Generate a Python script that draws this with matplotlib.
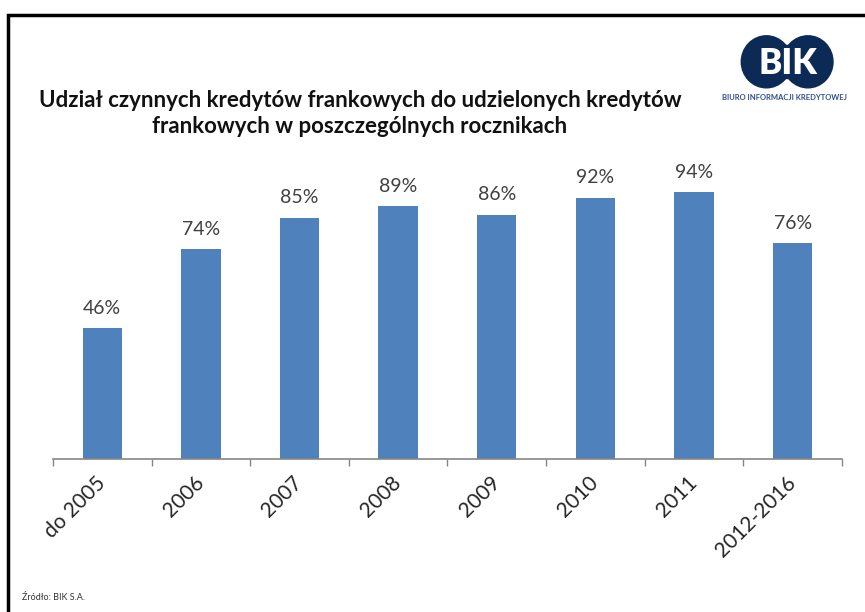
import matplotlib.pyplot as plt
from matplotlib.patches import Ellipse, Rectangle

# data
categories = ['do 2005', '2006', '2007', '2008', '2009', '2010', '2011', '2012-2016']
shares = [46, 74, 85, 89, 86, 92, 94, 76]

plt.rcParams['font.family'] = ['Lato', 'DejaVu Sans']

fig = plt.figure(figsize=(8.65, 6.12), dpi=100)
ax = fig.add_axes([0.0613, 0.25, 0.912, 0.464])

x = range(len(categories))
ax.bar(x, shares, width=0.4, color='#4F81BD', zorder=2)
for i, v in zip(x, shares):
    ax.text(i, v + 4, '{}%'.format(v), ha='center', va='bottom',
            fontsize=14, color='#404040')

ax.set_xlim(-0.5, len(categories) - 0.5)
ax.set_ylim(0, 100)
ax.set_yticks([])
for s in ['top', 'right', 'left']:
    ax.spines[s].set_visible(False)
ax.spines['bottom'].set_color('#868686')
ax.spines['bottom'].set_linewidth(1.2)

# ticks sit between categories
ax.set_xticks([i - 0.5 for i in range(len(categories) + 1)], minor=False)
ax.set_xticklabels([])
ax.tick_params(axis='x', which='major', length=5, color='#868686', width=1)
ax.set_xticks(list(x), minor=True)
ax.set_xticklabels(categories, minor=True, rotation=45, ha='right', va='center',
                   rotation_mode='anchor', fontsize=15, color='#262626')
ax.tick_params(axis='x', which='minor', length=0, pad=15)

# title
fig.text(0.416, 0.836, 'Udział czynnych kredytów frankowych do udzielonych kredytów',
         ha='center', va='center', fontsize=16, fontweight='bold', color='#111111')
fig.text(0.416, 0.793, 'frankowych w poszczególnych rocznikach',
         ha='center', va='center', fontsize=16, fontweight='bold', color='#111111')

# BIK logo
logo_c = '#0B2A55'
fig.patches.append(Ellipse((0.886, 0.899), 0.058, 0.085, transform=fig.transFigure,
                           color=logo_c, zorder=3))
fig.patches.append(Ellipse((0.934, 0.899), 0.058, 0.085, transform=fig.transFigure,
                           color=logo_c, zorder=3))
fig.patches.append(Rectangle((0.886, 0.872), 0.048, 0.054, transform=fig.transFigure,
                             color=logo_c, zorder=3))
fig.text(0.911, 0.897, 'BIK', ha='center', va='center', fontsize=25,
         fontweight='heavy', color='white', zorder=4)
fig.text(0.907, 0.841, 'BIURO INFORMACJI KREDYTOWEJ', ha='center', va='center',
         fontsize=5.5, fontweight='bold', color='#2C4F8A')

# source
fig.text(0.025, 0.024, 'Źródło: BIK S.A.', ha='left', va='center',
         fontsize=6.5, color='#333333')

# frame
fig.patches.append(Rectangle((0.0095, -0.05), 1.05, 1.026, transform=fig.transFigure,
                             fill=False, edgecolor='black', linewidth=2.5))

fig.savefig('out.png', dpi=100)
